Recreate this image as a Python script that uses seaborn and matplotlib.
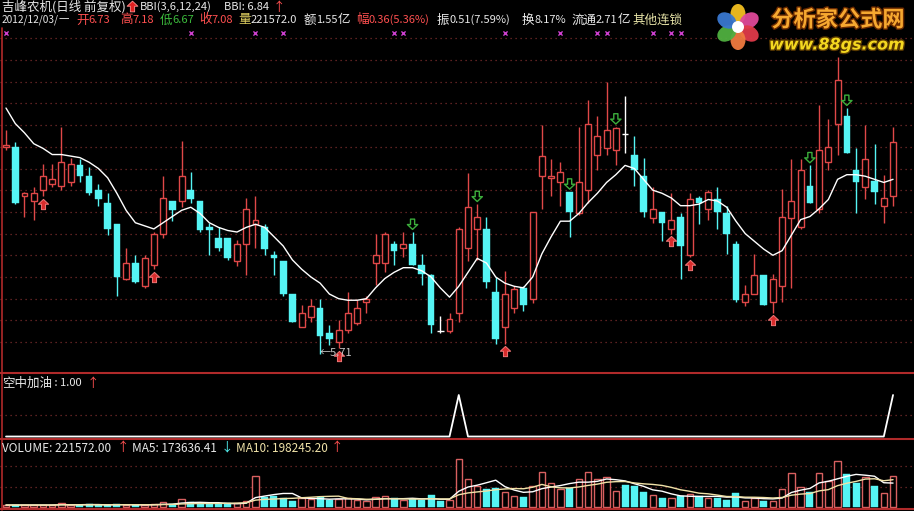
import numpy as np
import pandas as pd
import matplotlib
matplotlib.use("Agg")
import matplotlib.pyplot as plt
import seaborn as sns
from matplotlib.path import Path
from matplotlib.patches import Ellipse, Circle
import matplotlib.patheffects as pe

# ---------------- data ----------------
open_ = [7.05,7.05,6.73,6.70,6.77,6.81,6.80,6.82,6.93,6.86,
         6.77,6.69,6.55,6.20,6.30,6.15,6.29,6.49,6.70,6.70,
         6.77,6.70,6.53,6.46,6.46,6.31,6.42,6.55,6.53,6.35,
         6.31,6.10,5.89,5.95,6.01,5.85,5.79,5.87,5.91,6.05,
         6.30,6.30,6.42,6.40,6.42,6.29,6.22,5.86,5.86,5.98,
         6.40,6.52,6.52,6.11,5.89,6.01,6.14,6.07,6.86,6.85,
         6.82,6.76,6.62,6.77,7.00,7.04,7.03,7.13,7.00,6.86,
         6.59,6.63,6.52,6.60,6.35,6.72,6.65,6.71,6.62,6.42,
         6.05,6.10,6.22,6.05,6.15,6.59,6.53,6.80,6.65,6.95,
         7.20,7.25,6.90,6.79,6.83,6.67,6.73]
high = [7.16,7.08,6.76,6.79,6.94,6.94,7.18,6.98,6.97,6.92,
        6.81,6.75,6.55,6.40,6.35,6.35,6.50,6.86,6.70,7.09,
        6.89,6.70,6.56,6.53,6.46,6.45,6.72,6.73,6.55,6.38,
        6.31,6.10,6.03,6.07,6.07,5.90,5.93,6.11,6.06,6.09,
        6.49,6.50,6.44,6.50,6.50,6.36,6.23,5.96,5.98,6.53,
        6.88,6.68,6.60,6.21,6.25,6.15,6.15,6.63,7.19,6.97,
        6.95,6.76,7.18,7.35,7.25,7.47,7.18,7.38,7.12,6.98,
        6.79,6.63,6.75,6.62,6.75,6.73,6.77,6.79,6.67,6.44,
        6.16,6.36,6.22,6.23,6.78,6.97,6.97,6.93,7.32,7.23,
        7.63,7.30,7.04,7.19,7.07,6.87,7.18]
low = [7.03,6.68,6.60,6.58,6.73,6.79,6.77,6.80,6.82,6.74,
       6.67,6.48,6.09,6.19,6.17,6.14,6.26,6.46,6.57,6.66,
       6.69,6.50,6.35,6.38,6.32,6.28,6.22,6.40,6.35,6.22,
       6.09,5.92,5.89,5.92,5.71,5.77,5.75,5.85,5.90,5.98,
       6.16,6.24,6.29,6.34,6.29,6.16,5.85,5.85,5.85,5.92,
       6.31,6.32,6.14,5.78,5.78,5.98,5.99,6.04,6.65,6.73,
       6.67,6.47,6.61,6.69,6.90,7.00,6.93,7.01,6.80,6.60,
       6.56,6.44,6.49,6.20,6.34,6.55,6.58,6.52,6.36,6.05,
       6.02,6.10,6.03,5.98,6.05,6.14,6.52,6.69,6.62,6.90,
       7.00,7.01,6.62,6.71,6.68,6.56,6.67]
close = [7.06,6.69,6.75,6.75,6.86,6.84,6.95,6.94,6.86,6.75,
         6.71,6.52,6.21,6.30,6.18,6.33,6.49,6.72,6.64,6.86,
         6.71,6.51,6.51,6.40,6.33,6.42,6.65,6.58,6.39,6.33,
         6.10,5.92,5.98,6.02,5.83,5.81,5.87,5.98,6.01,6.07,
         6.35,6.49,6.38,6.42,6.29,6.23,5.90,5.86,5.94,6.52,
         6.66,6.60,6.18,5.81,6.10,6.13,6.03,6.63,6.99,6.86,
         6.89,6.63,6.82,7.20,7.12,7.16,7.17,7.13,6.90,6.63,
         6.65,6.56,6.58,6.41,6.71,6.69,6.76,6.63,6.49,6.06,
         6.10,6.22,6.03,6.20,6.60,6.70,6.90,6.69,7.03,7.05,
         7.48,7.01,6.82,6.97,6.76,6.72,7.08]
bbi = [7.30,7.20,7.14,7.07,7.04,7.00,7.00,6.99,6.98,6.95,
       6.91,6.85,6.75,6.64,6.56,6.54,6.52,6.56,6.60,6.64,
       6.66,6.62,6.56,6.53,6.51,6.50,6.53,6.55,6.53,6.47,
       6.41,6.32,6.26,6.21,6.17,6.10,6.07,6.06,6.06,6.07,
       6.14,6.20,6.24,6.27,6.27,6.25,6.21,6.14,6.08,6.15,
       6.24,6.33,6.30,6.21,6.17,6.15,6.14,6.21,6.36,6.47,
       6.57,6.57,6.62,6.69,6.75,6.82,6.87,6.93,6.91,6.84,
       6.77,6.75,6.72,6.67,6.67,6.68,6.71,6.70,6.66,6.57,
       6.49,6.44,6.39,6.35,6.38,6.48,6.58,6.60,6.65,6.71,
       6.84,6.87,6.87,6.86,6.84,6.82,6.84]
volume_k = [16,16,16,16,16,16,28,16,16,21,
            16,16,23,16,16,16,21,35,21,57,
            35,28,23,21,28,28,45,222,75,80,
            68,45,64,57,71,50,57,64,50,43,
            71,78,64,50,57,50,85,43,50,340,
            200,150,130,140,110,80,70,150,250,170,
            130,140,200,250,200,212,115,158,151,106,
            87,68,64,80,92,80,68,68,52,99,
            45,64,45,45,130,241,146,106,241,188,
            328,234,174,212,151,99,221.572]
refuel = [0]*49 + [1] + [0]*46 + [1]          # 空中加油 signal
buy_signal = [5, 17, 37, 55, 73, 75, 84]       # red up arrows (bar number)
sell_signal = [45, 52, 62, 67, 88, 92]         # green down arrows
cross_marks = [1, 21, 28, 31, 43, 44, 55, 61, 65, 66, 71, 73, 74]
low_label = "←5.71"

# ---------------- style ----------------
sns.set_theme(style="dark")
plt.rcParams["font.family"] = ["Noto Sans CJK SC", "DejaVu Sans"]
plt.rcParams["axes.unicode_minus"] = False

RED = "#e04848"
CYAN = "#55f4f4"
GRID = "#7a2c2c"
FRAME = "#b02a2a"
WHITE = "#e8e8e8"
TRED = "#ff5050"
TGRN = "#3cbc3c"
TYEL = "#e0d060"
TCRM = "#f0e2a8"

W, H = 914, 511
fig = plt.figure(figsize=(W / 100, H / 100), dpi=100, facecolor="black")

n = len(close)
x = np.arange(n)
o = np.array(open_); h = np.array(high); l = np.array(low); c = np.array(close)
XL = (-6 / 9.24, (W - 6) / 9.24)


def px2price(y):
    return 7.997 - y / 155.0


def add_ax(top, bottom):
    ax = fig.add_axes([0, 1 - bottom / H, 1, (bottom - top) / H])
    ax.set_facecolor("black")
    ax.set_xticks([]); ax.set_yticks([])
    for s in ax.spines.values():
        s.set_visible(False)
    ax.set_xlim(*XL)
    return ax


# ---------------- price pane ----------------
axp = add_ax(28, 373)
for k in range(15):
    axp.axhline(px2price(38.3 + 21.7 * k), color=GRID, lw=0.9, ls=(0, (1, 3)), zorder=0)

up = c > o
dn = c < o
fl = c == o
axp.vlines(x[up], l[up], h[up], color=RED, lw=1, zorder=2)
axp.vlines(x[dn], l[dn], h[dn], color=CYAN, lw=1, zorder=2)
axp.vlines(x[fl], l[fl], h[fl], color="white", lw=1, zorder=2)
axp.bar(x[up], (c - o)[up], bottom=o[up], width=0.64, facecolor="black",
        edgecolor=RED, linewidth=1, zorder=3)
axp.bar(x[dn], (c - o)[dn], bottom=o[dn], width=0.72, facecolor=CYAN,
        edgecolor=CYAN, linewidth=0.3, zorder=3)
axp.hlines(c[fl], x[fl] - 0.36, x[fl] + 0.36, color="white", lw=1, zorder=3)

sns.lineplot(x=x, y=bbi, ax=axp, color="white", linewidth=1.0, zorder=4)

up_arrow = Path([(0, 1), (-1, 0.05), (-0.4, 0.05), (-0.4, -1), (0.4, -1), (0.4, 0.05), (1, 0.05), (0, 1)],
                [Path.MOVETO] + [Path.LINETO] * 6 + [Path.CLOSEPOLY])
dn_arrow = Path([(px_, -py_) for px_, py_ in up_arrow.vertices], up_arrow.codes)
bi = np.array(buy_signal) - 1
si = np.array(sell_signal) - 1
axp.scatter(x[bi], l[bi] - 0.05, marker=up_arrow, s=55, facecolor="#d82c2c",
            edgecolor="#f07878", linewidth=0.7, zorder=5)
axp.scatter(x[si], h[si] + 0.05, marker=dn_arrow, s=55, facecolor="none",
            edgecolor="#3cae3c", linewidth=1.0, zorder=5)
imin = int(np.argmin(l))
axp.text(x[imin] - 0.05, l[imin] + 0.01, low_label, color="#c8c8c8", fontsize=8,
         va="center", ha="left", zorder=6)
ci = np.array(cross_marks) - 1
axp.scatter(x[ci], [0.986] * len(ci), transform=axp.get_xaxis_transform(), marker="x",
            s=9, color="#d040d0", linewidth=1, clip_on=False, zorder=5)
axp.set_ylim(px2price(373), px2price(28))
axp.set_xlim(*XL)
axp.set_xlabel(""); axp.set_ylabel("")

# ---------------- 空中加油 pane ----------------
axm = add_ax(374, 439)
axm.axhline(0.53, color=GRID, lw=0.9, ls=(0, (1, 3)), zorder=0)
sns.lineplot(x=x, y=refuel, ax=axm, color="white", linewidth=1.3, zorder=3)
axm.set_ylim(-0.06, 1.506)
axm.set_xlim(*XL)
axm.set_xlabel(""); axm.set_ylabel("")

# ---------------- volume pane ----------------
axv = add_ax(440, 510)
vol = np.array(volume_k) * 1000.0
for g in (292404, 143724):
    axv.axhline(g, color=GRID, lw=0.9, ls=(0, (1, 3)), zorder=0)
vup = c > o
axv.bar(x[vup], vol[vup], width=0.7, facecolor="black", edgecolor="#d86060", linewidth=1, zorder=2)
axv.bar(x[~vup], vol[~vup], width=0.76, facecolor=CYAN, edgecolor=CYAN, linewidth=0.3, zorder=2)
vs = pd.Series(vol)
sns.lineplot(x=x, y=vs.rolling(5, min_periods=1).mean().values, ax=axv, color="white", linewidth=1, zorder=3)
sns.lineplot(x=x, y=vs.rolling(10, min_periods=1).mean().values, ax=axv, color=TCRM, linewidth=1, zorder=3)
axv.set_ylim(-19116, 476484)
axv.set_xlim(*XL)
axv.set_xlabel(""); axv.set_ylabel("")

# ---------------- decoration overlay (pixel coords) ----------------
axd = fig.add_axes([0, 0, 1, 1], facecolor="none")
axd.set_xlim(0, W); axd.set_ylim(H, 0); axd.axis("off")
for yy in (373.5, 439.5, 509.5):
    axd.plot([0, W], [yy, yy], color=FRAME, lw=1.5)
axd.plot([1.5, 1.5], [28, 510], color=FRAME, lw=1.2)

# logo flower
petals = [(90, "#f4c020"), (30, "#e04a9a"), (-30, "#e03a4a"), (-90, "#f07a40"),
          (-150, "#50b040"), (150, "#3a78d0")]
cx, cy = 738, 27
for ang, col in petals:
    a = np.deg2rad(ang)
    axd.add_patch(Ellipse((cx + 13 * np.cos(a), cy - 13 * np.sin(a)), 15, 20, angle=-ang + 90,
                          facecolor=col, edgecolor="none", alpha=0.95))
axd.add_patch(Circle((cx, cy), 6, facecolor="white", edgecolor="none"))
axd.text(838, 20, "分析家公式网", color="#f6a830", fontsize=16, fontweight="bold",
         ha="center", va="center",
         path_effects=[pe.withStroke(linewidth=2, foreground="#6a2a00")])
axd.text(837, 45, "www.88gs.com", color="#f4d820", fontsize=11.5, fontweight="bold",
         style="italic", ha="center", va="center", family="DejaVu Sans",
         path_effects=[pe.withStroke(linewidth=2, foreground="#5a3a00")])

# tiny red arrow icon in the header
axd.scatter([131.5], [6.5], marker=up_arrow, s=60, facecolor="#e02020", edgecolor="#ff9090", linewidth=0.6)

renderer = fig.canvas.get_renderer()
CJK = 9.0
LAT = 8.0


def seg(xp, yp, parts):
    """Place text pieces one after another (pixel coordinates)."""
    for s, col, size in parts:
        t = axd.text(xp, yp, s, color=col, fontsize=size, ha="left", va="center")
        xp += t.get_window_extent(renderer).width


seg(2, 7, [("吉峰农机(日线 前复权)", WHITE, CJK)])
seg(140, 7, [("BBI(3,6,12,24)", WHITE, LAT)])
seg(224, 7, [("BBI: 6.84", WHITE, LAT)])
seg(273, 7, [("↑", TRED, CJK)])

seg(2, 20, [("2012/12/03/", WHITE, 7.3), ("一", WHITE, 7.5)])
seg(76, 20, [("开", TRED, CJK), ("6.73", TRED, LAT)])
seg(120, 20, [("高", TRED, CJK), ("7.18", TRED, LAT)])
seg(160, 20, [("低", TGRN, CJK), ("6.67", TGRN, LAT)])
seg(199, 20, [("收", TRED, CJK), ("7.08", TRED, LAT)])
seg(238, 20, [("量", TYEL, CJK), ("221572.0", WHITE, LAT)])
seg(304, 20, [("额", WHITE, CJK), ("1.55", WHITE, LAT), ("亿", WHITE, CJK)])
seg(356, 20, [("幅", TRED, CJK), ("0.36(5.36%)", TRED, LAT)])
seg(437, 20, [("振", WHITE, CJK), ("0.51(7.59%)", WHITE, LAT)])
seg(522, 20, [("换", WHITE, CJK), ("8.17%", WHITE, LAT)])
seg(571, 20, [("流通", WHITE, CJK), ("2.71", WHITE, LAT), ("亿", WHITE, CJK)])
seg(632, 20, [("其他连锁", "#e8e4a8", CJK)])

seg(2, 383, [("空中加油", WHITE, CJK), (" : 1.00", WHITE, LAT)])
seg(87, 383, [("↑", TRED, CJK)])

seg(2, 448, [("VOLUME: 221572.00", WHITE, 8.5)])
seg(117, 448, [("↑", TRED, CJK)])
seg(132, 448, [("MA5: 173636.41", WHITE, 8.5)])
seg(221, 448, [("↓", CYAN, CJK)])
seg(236, 448, [("MA10: 198245.20", TCRM, 8.5)])
seg(331, 448, [("↑", TRED, CJK)])

fig.savefig("out.png", dpi=100, facecolor="black")
